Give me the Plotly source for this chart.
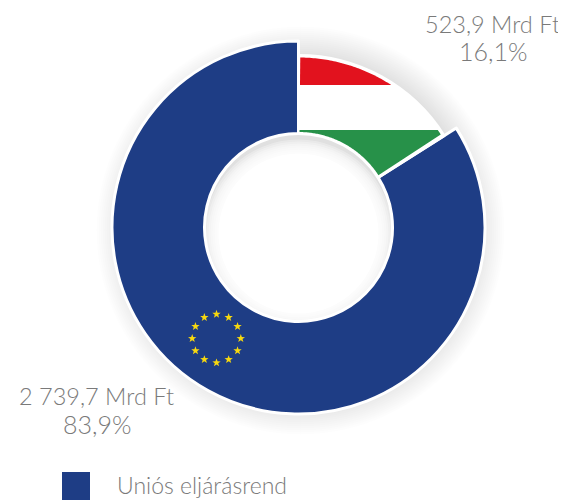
import numpy as np
import plotly.graph_objects as go

categories = ["Hazai eljárásrend", "Uniós eljárásrend"]
values = [523.9, 2739.7]
value_labels = ["523,9 Mrd Ft", "2 739,7 Mrd Ft"]
percent_labels = ["16,1%", "83,9%"]
legend_label = "Uniós eljárásrend"

BLUE, RED, GREEN = "#1E3D85", "#E2121E", "#279149"
GREY = "#7a7a7a"
FONT = "Lato Light, Lato, sans-serif"
PAGE_W, PAGE_H, PAGE_MARGIN = 566, 500, 8
W, H = PAGE_W - PAGE_MARGIN, PAGE_H - PAGE_MARGIN
CX, CY, R_OUT, R_HU, R_IN = 298.5, 227.5, 186.5, 172, 94
BAND_TOP, BAND_BOTTOM = 85, 130

def px(x):
    return (x - PAGE_MARGIN) / W

def py(y):
    return 1 - (y - PAGE_MARGIN) / H

def domain(r):
    return dict(x=[px(CX - r), px(CX + r)], y=[py(CY + r), py(CY - r)])

def to_path(points):
    return "M " + " L ".join(f"{px(x):.5f},{py(y):.5f}" for x, y in points) + " Z"

def disc(r, color, opacity, dx=0, dy=0):
    return dict(type="circle", xref="paper", yref="paper", layer="below",
                x0=px(CX + dx - r), x1=px(CX + dx + r),
                y0=py(CY + dy - r), y1=py(CY + dy + r),
                fillcolor=color, opacity=opacity, line_width=0)

def clip(poly, y_limit, keep_above):
    """Clip a polygon against a horizontal line (pixel space)."""
    inside = (lambda p: p[1] <= y_limit) if keep_above else (lambda p: p[1] >= y_limit)
    result = []
    for i, a in enumerate(poly):
        b = poly[(i + 1) % len(poly)]
        if inside(a):
            result.append(a)
        if inside(a) != inside(b):
            t = (y_limit - a[1]) / (b[1] - a[1])
            result.append((a[0] + t * (b[0] - a[0]), y_limit))
    return result

# Hungarian wedge derived from the data
end_angle = 360 * values[0] / sum(values)
angles = np.radians(np.linspace(0.6, end_angle - 1.0, 90))
r_o, r_i = R_HU - 2, R_IN + 1.5
wedge = [(CX + r_o * np.sin(a), CY - r_o * np.cos(a)) for a in angles] + \
        [(CX + r_i * np.sin(a), CY - r_i * np.cos(a)) for a in angles[::-1]]

shapes = []
# soft shadow outside the ring
for r in np.arange(204, 170, -2):
    shapes.append(disc(r, "#000000", 0.009, 2, 3))
# soft shadow inside the hole: strongest along its top edge
shapes.append(disc(R_IN + 2, "#e0e0e0", 1))
for r in np.arange(R_IN, R_IN - 14, -2):
    shapes.append(disc(r, "#ffffff", 0.3, 0, 6))
shapes.append(disc(R_IN - 14, "#ffffff", 1, 0, 6))

# flag bands
for poly, col in [(clip(wedge, BAND_TOP, True), RED), (clip(wedge, BAND_BOTTOM, False), GREEN)]:
    shapes.append(dict(type="path", xref="paper", yref="paper", layer="above",
                       path=to_path(poly), fillcolor=col, line_width=0))

# EU stars
SX, SY, SR = 216.5, 338.5, 24.3
for k in range(12):
    a = np.radians(30 * k)
    c = (SX + SR * np.sin(a), SY - SR * np.cos(a))
    star = []
    for j in range(10):
        rad = 4.4 if j % 2 == 0 else 1.8
        b = np.radians(36 * j)
        star.append((c[0] + rad * np.sin(b), c[1] - rad * np.cos(b)))
    shapes.append(dict(type="path", xref="paper", yref="paper", layer="above",
                       path=to_path(star), fillcolor="#F7D80F", line_width=0))

# legend swatch
shapes.append(dict(type="rect", xref="paper", yref="paper", layer="above",
                   x0=px(62), x1=px(90), y0=py(500), y1=py(472), fillcolor=BLUE, line_width=0))

fig = go.Figure()
fig.add_trace(go.Pie(labels=categories, values=values, hole=R_IN / R_OUT, sort=False,
                     direction="clockwise", rotation=0, textinfo="none", hoverinfo="label+value",
                     marker=dict(colors=["rgba(0,0,0,0)", BLUE],
                                 line=dict(color=["rgba(0,0,0,0)", "#ffffff"], width=3)),
                     domain=domain(R_OUT), showlegend=False))
fig.add_trace(go.Pie(labels=categories, values=values, hole=R_IN / R_HU, sort=False,
                     direction="clockwise", rotation=0, textinfo="none", hoverinfo="label+value",
                     marker=dict(colors=["#ffffff", "rgba(0,0,0,0)"],
                                 line=dict(color=["#ffffff", "rgba(0,0,0,0)"], width=3)),
                     domain=domain(R_HU), showlegend=False))

def note(text, x, y, anchor="center", size=23.5):
    return dict(text=text, xref="paper", yref="paper", x=px(x), y=py(y), xanchor=anchor,
                yanchor="middle", showarrow=False, align="center",
                font=dict(family=FONT, size=size, color=GREY))

annotations = [
    note(value_labels[0], 492.5, 24), note(percent_labels[0], 493, 51, size=25),
    note(value_labels[1], 96.5, 396), note(percent_labels[1], 96.5, 424, size=25),
    note(legend_label, 115, 484.5, "left", 23),
]

fig.update_layout(width=W, height=H, margin=dict(l=0, r=0, t=0, b=0),
                  paper_bgcolor="white", plot_bgcolor="white",
                  shapes=shapes, annotations=annotations, showlegend=False)
fig.write_html("out.html")
